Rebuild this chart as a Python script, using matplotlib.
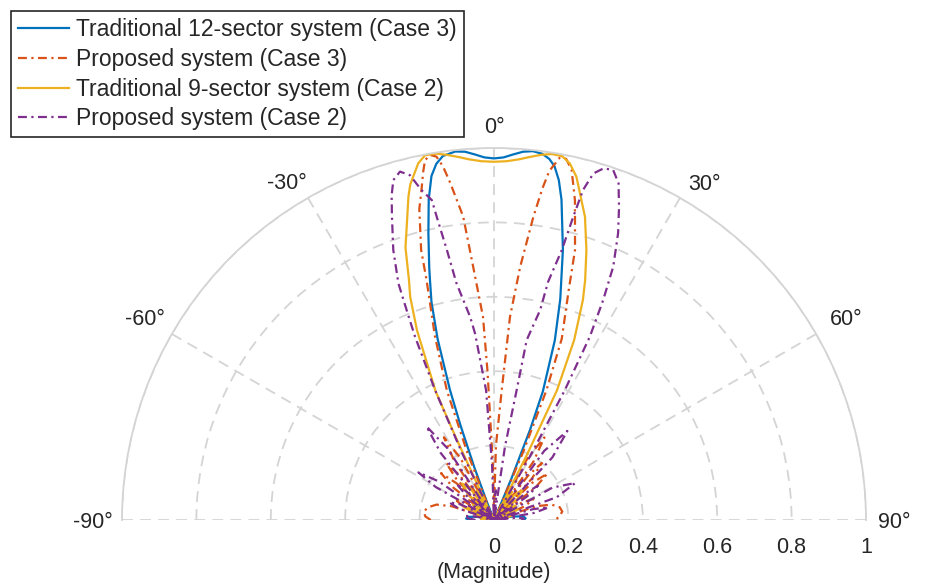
import numpy as np
import matplotlib.pyplot as plt

plt.rcParams['font.family'] = ['Liberation Sans', 'DejaVu Sans']

# (angle in degrees, clockwise from broadside; normalised magnitude)
trad12 = [
    (-90, 0.06), (-87, 0.075), (-83, 0.07), (-79, 0.045), (-76, 0.0),
    (-72, 0.035), (-69, 0.04), (-66, 0.035), (-62, 0.0),
    (-56, 0.045), (-52, 0.06), (-48, 0.045), (-46, 0.0),
    (-40.5, 0.05), (-38, 0.07), (-35.5, 0.05), (-34, 0.0),
    (-30, 0.065), (-27.5, 0.09), (-25, 0.065), (-24, 0.0),
    (-21.5, 0.05), (-20.5, 0.15), (-19.5, 0.27), (-18.7, 0.37), (-17.3, 0.51),
    (-16, 0.61), (-14.9, 0.67), (-14.4, 0.70), (-12.9, 0.79), (-11.5, 0.88),
    (-10.3, 0.94), (-9.2, 0.97), (-8, 0.988), (-6, 0.996), (-4.5, 0.993),
    (-3, 0.984), (-1.5, 0.975), (0, 0.972), (1.5, 0.975), (3, 0.984),
    (4.5, 0.993), (6, 0.997), (7.5, 0.993), (8.7, 0.982), (9.7, 0.965),
    (10.8, 0.93), (11.9, 0.88), (14.3, 0.75), (16.7, 0.62), (18.7, 0.51),
    (20.8, 0.37), (21.8, 0.26), (22.8, 0.12), (23.5, 0.03), (24.5, 0.0),
    (26, 0.065), (28.2, 0.09), (30.5, 0.065), (32, 0.0),
    (35.5, 0.05), (38, 0.07), (40.5, 0.05), (42, 0.0),
    (48, 0.045), (52, 0.06), (56, 0.045), (58, 0.0),
    (66, 0.035), (69, 0.04), (72, 0.035), (76, 0.0),
    (79, 0.05), (83, 0.08), (87, 0.085), (90, 0.08),
]

prop3 = [
    (-90, 0.17), (-87, 0.185), (-83, 0.19), (-79, 0.18), (-75, 0.16), (-72, 0.12), (-70, 0.0),
    (-66, 0.09), (-62, 0.12), (-58, 0.09), (-56, 0.0),
    (-51.5, 0.14), (-48.5, 0.19), (-45.5, 0.14), (-44, 0.0),
    (-42.5, 0.15), (-40, 0.20), (-37.5, 0.15), (-35.5, 0.0),
    (-34, 0.19), (-31.2, 0.26), (-28.5, 0.19), (-27, 0.0),
    (-22.8, 0.05), (-21.5, 0.2), (-20, 0.37), (-17.8, 0.52), (-15.7, 0.67),
    (-15.1, 0.752), (-13.5, 0.86), (-12.4, 0.908), (-11.5, 0.955), (-10.85, 0.985),
    (-9.9, 0.996), (-9.0, 0.989), (-8.2, 0.96), (-7.4, 0.914), (-5.8, 0.82),
    (-4.7, 0.683), (-3.1, 0.547), (-2.5, 0.40), (-1.2, 0.15), (0, 0.02), (1.5, 0.2),
    (3.4, 0.35), (4.5, 0.548), (5.9, 0.684), (7.4, 0.822), (8.3, 0.9), (9, 0.95),
    (10.3, 0.99), (11.3, 0.99), (12.5, 0.964), (14.2, 0.887), (16.7, 0.758), (18, 0.65),
    (20.5, 0.52), (22, 0.377), (23.2, 0.2), (24.5, 0.03), (26, 0.0),
    (28.5, 0.19), (31.4, 0.26), (34, 0.19), (35.5, 0.0),
    (37.5, 0.15), (40, 0.20), (42.5, 0.15), (44, 0.0),
    (45.5, 0.14), (49, 0.19), (52, 0.14), (53, 0.0),
    (58, 0.09), (62, 0.12), (66, 0.09), (68, 0.0),
    (72, 0.12), (75, 0.16), (79, 0.18), (83, 0.185), (87, 0.175), (90, 0.165),
]

trad9 = [
    (-90, 0.03), (-87, 0.035), (-84, 0.02), (-82, 0.0),
    (-78.5, 0.04), (-76, 0.05), (-73.5, 0.04), (-72, 0.0),
    (-69.5, 0.065), (-66.5, 0.09), (-63, 0.065), (-61, 0.0),
    (-56.5, 0.05), (-54, 0.07), (-51.5, 0.05), (-50, 0.0),
    (-45, 0.10), (-41, 0.13), (-37, 0.10), (-35, 0.0),
    (-32.5, 0.065), (-30.5, 0.09), (-28.5, 0.065), (-27, 0.0),
    (-25.5, 0.05), (-24.8, 0.25), (-24.4, 0.38), (-22.1, 0.55), (-20.6, 0.64),
    (-19.5, 0.685), (-18, 0.77), (-16.9, 0.81), (-14.8, 0.90), (-14, 0.93),
    (-12, 0.98), (-10.7, 0.998), (-9, 0.997), (-7.4, 0.99), (-5.5, 0.98),
    (-4, 0.972), (-2, 0.965), (0, 0.963), (2, 0.965), (4, 0.972), (5.5, 0.98),
    (7.4, 0.99), (9, 0.996), (10.6, 0.995), (12, 0.98), (13.5, 0.949), (16.7, 0.851),
    (18.9, 0.767), (20.8, 0.69), (22.0, 0.638), (24.0, 0.53), (25.9, 0.388),
    (26.8, 0.2), (27.5, 0.04), (29, 0.0),
    (30.5, 0.065), (32.5, 0.09), (34.5, 0.065), (36, 0.0),
    (39, 0.085), (43.5, 0.11), (48, 0.085), (50, 0.0),
    (53.5, 0.05), (56, 0.07), (58.5, 0.05), (60, 0.0),
    (63, 0.05), (66, 0.07), (69, 0.05), (71, 0.0),
    (73.5, 0.04), (76, 0.05), (78.5, 0.04), (80, 0.0),
    (82, 0.0), (85, 0.025), (90, 0.03),
]

prop2 = [
    (-90, 0.05), (-86, 0.07), (-82, 0.08), (-79, 0.05), (-77, 0.0),
    (-72, 0.10), (-68.5, 0.13), (-65, 0.10), (-63, 0.0),
    (-60.5, 0.18), (-57.8, 0.24), (-55, 0.18), (-53, 0.0),
    (-48.5, 0.10), (-46, 0.14), (-43.5, 0.10), (-42, 0.0),
    (-38.5, 0.23), (-35.8, 0.31), (-33, 0.23), (-31, 0.0),
    (-26.5, 0.0), (-25.5, 0.2), (-24.4, 0.384), (-23.3, 0.537), (-22.6, 0.611),
    (-22, 0.686), (-20.45, 0.775), (-18.6, 0.86), (-17.5, 0.915), (-16.5, 0.953),
    (-15.1, 0.970), (-13.7, 0.954), (-12.4, 0.908), (-11, 0.876), (-10.7, 0.83),
    (-9.9, 0.737), (-9.0, 0.644), (-6.7, 0.55), (-5.8, 0.504), (-3.5, 0.35),
    (-2, 0.15), (-1, 0.0),
    (1.5, 0.06), (3.5, 0.08), (5.5, 0.06), (7, 0.0),
    (8.5, 0.2), (9.9, 0.355), (10.3, 0.492), (12.4, 0.578), (12.8, 0.657),
    (14.1, 0.748), (14.65, 0.843), (15.1, 0.919), (16, 0.969), (17.3, 0.990),
    (18.8, 0.994), (20.3, 0.965), (21.8, 0.905), (23.4, 0.840), (25.2, 0.753),
    (26.4, 0.660), (27.6, 0.556), (28.6, 0.398), (29.5, 0.2), (30.5, 0.0),
    (34, 0.0), (36, 0.23), (39.5, 0.31), (43, 0.23), (45, 0.0),
    (49.5, 0.11), (52, 0.15), (54.5, 0.11), (56, 0.0),
    (61, 0.18), (65.5, 0.24), (70, 0.18), (72, 0.0),
    (74.5, 0.11), (77, 0.15), (80, 0.11), (82, 0.0),
    (84, 0.06), (87, 0.08), (90, 0.075),
]

series = [
    (trad12, '#0072BD', '-', 'Traditional 12-sector system (Case 3)'),
    (prop3, '#D95319', (0, (4, 2, 1, 2)), 'Proposed system (Case 3)'),
    (trad9, '#EDB120', '-', 'Traditional 9-sector system (Case 2)'),
    (prop2, '#7E2F8E', (0, (4, 2, 1, 2)), 'Proposed system (Case 2)'),
]

W, H = 927, 584
cx, cy, R = 494, 520, 372  # origin and radius of the half disc, in pixels
fig = plt.figure(figsize=(W / 100, H / 100), dpi=100)
# polar wedge is fitted inside a square box centred on the wedge
ax = fig.add_axes([(cx - R) / W, (H - (cy - R / 2 + R)) / H, 2 * R / W, 2 * R / H],
                  projection='polar')
ax.set_theta_zero_location('N')
ax.set_theta_direction(-1)
ax.set_thetamin(-90)
ax.set_thetamax(90)
ax.set_rlim(0, 1)

gray = '#d4d4d4'
ax.set_rticks([0.2, 0.4, 0.6, 0.8, 1.0])
ax.set_yticklabels([])
ax.set_thetagrids(range(-90, 91, 30), labels=[''] * 7)
ax.grid(True, color=gray, lw=1.3, ls=(0, (6, 4)))
ax.tick_params(length=0)
for s in ['start', 'end', 'inner']:
    ax.spines[s].set_color('none')
ax.spines['polar'].set_color(gray)
ax.spines['polar'].set_linewidth(1.3)

for pts, c, ls, lab in series:
    th, r = np.array(pts).T
    ax.plot(np.deg2rad(th), r, color=c, ls=ls, lw=1.6, label=lab)

txt = '#262626'
fs = 15.5
# angle labels
ang_pos = {
    -90: (-9, -2, 'right', 'center'), -60: (-7, 4, 'right', 'bottom'),
    -30: (-1, 4, 'right', 'bottom'), 0: (0, 10, 'center', 'bottom'),
    30: (8, 3, 'left', 'bottom'), 60: (14, 4, 'left', 'bottom'),
    90: (12, -2, 'left', 'center'),
}
for a, (dx, dy, ha, va) in ang_pos.items():
    ax.annotate(f'{a}°', xy=(np.deg2rad(a), 1.0), xytext=(dx, dy),
                textcoords='offset pixels', ha=ha, va=va, fontsize=fs,
                color=txt, annotation_clip=False)

# magnitude labels along the baseline
for rv, lab in zip([0, 0.2, 0.4, 0.6, 0.8, 1.0], ['0', '0.2', '0.4', '0.6', '0.8', '1']):
    ax.annotate(lab, xy=(np.deg2rad(90), rv), xytext=(0, -17), textcoords='offset pixels',
                ha='center', va='top', fontsize=fs, color=txt, annotation_clip=False)
ax.annotate('(Magnitude)', xy=(np.deg2rad(90), 0), xytext=(0, -42), textcoords='offset pixels',
            ha='center', va='top', fontsize=fs, color=txt, annotation_clip=False)

leg = fig.legend(loc='upper left', bbox_to_anchor=(11 / W, 1 - 11 / H),
                 bbox_transform=fig.transFigure, borderaxespad=0, fontsize=16.5,
                 handlelength=2.25, handletextpad=0.3, labelspacing=0.3,
                 borderpad=0.3, fancybox=False, framealpha=1)
leg.get_frame().set_edgecolor('#262626')
leg.get_frame().set_linewidth(1.2)
for t in leg.get_texts():
    t.set_color(txt)

fig.savefig('out.png', dpi=100)
